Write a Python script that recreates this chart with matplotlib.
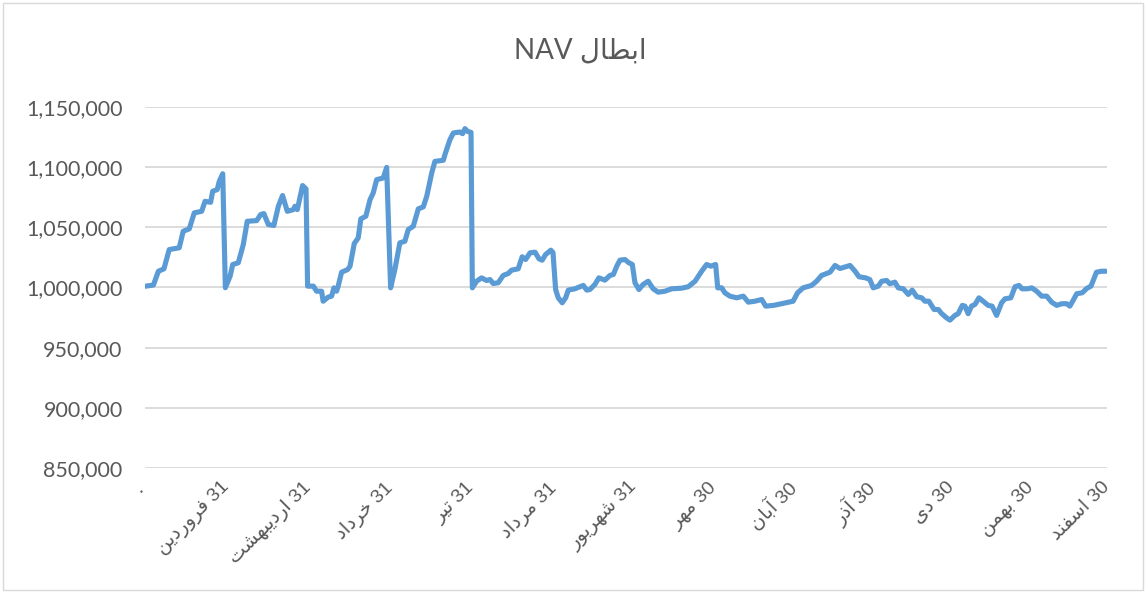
import matplotlib.pyplot as plt
import matplotlib.ticker as mticker
from matplotlib.patches import Rectangle

# --- data (day of the year, NAV for redemption) ---
days = [
    0, 3.2, 5.1, 7.2, 9.2, 13.0, 14.5, 16.8, 18.7, 21.5, 22.8, 24.9, 25.7, 27.4,
    28.2, 29.5, 30.5, 32.3, 33.3, 35.4, 37.3, 38.8, 42.4, 43.9, 45.1, 46.8, 48.9,
    50.6, 52.2, 54.0, 56.3, 56.9, 57.8, 59.8, 61.1, 61.7, 63.9, 65.1, 67.0, 67.6,
    69.5, 70.8, 71.7, 72.7, 73.3, 74.6, 76.9, 77.8, 79.4, 80.9, 81.9, 83.8, 85.4,
    86.6, 87.9, 90.4, 91.7, 93.2, 94.8, 96.7, 98.6, 99.9, 101.8, 103.7, 105.6,
    106.9, 108.8, 110.0, 113.2, 113.8, 115.7, 117.0, 119.5, 120.5, 121.4, 122.4,
    123.7, 124.2, 125.8, 127.7, 129.6, 130.9, 132.1, 134.0, 135.9, 137.8, 139.1,
    141.6, 143.1, 144.4, 146.1, 148.0, 149.5, 150.7, 152.0, 154.0, 154.8, 155.8,
    156.8, 158.3, 159.6, 160.6, 163.1, 165.0, 166.3, 167.6, 168.8, 170.7, 172.2,
    174.5, 176.4, 177.7, 179.0, 180.2, 182.1, 183.6, 184.9, 185.9, 187.4, 189.0,
    190.9, 192.8, 194.7, 197.3, 199.8, 203.6, 206.1, 208.7, 211.2, 213.1, 214.7,
    216.5, 217.3, 218.8, 220.0, 221.9, 224.5, 227.0, 228.9, 231.4, 234.0, 235.5,
    238.4, 241.5, 245.9, 247.6, 249.7, 252.9, 254.8, 256.7, 259.9, 261.8, 263.7,
    267.5, 269.4, 270.9, 273.4, 275.0, 276.3, 278.2, 279.5, 281.4, 282.6, 284.5,
    285.8, 287.7, 289.6, 291.1, 292.8, 294.7, 295.9, 297.4, 299.4, 301.0, 302.2,
    304.1, 305.4, 307.3, 308.5, 310.1, 311.1, 312.3, 313.6, 314.9, 316.4, 318.0,
    319.9, 321.4, 323.1, 325.0, 326.3, 328.5, 330.1, 331.6, 332.8, 334.9, 336.4,
    338.3, 340.2, 342.1, 344.0, 345.9, 347.8, 349.7, 350.9, 352.2, 353.5, 355.6,
    357.3, 358.9, 361.0, 362.9, 364.5,
]

nav = [
    1001000, 1002000, 1013500, 1015500, 1031500, 1033000, 1046700, 1048700,
    1062000, 1063300, 1071600, 1070800, 1080000, 1081300, 1088200, 1094500,
    999800, 1009400, 1019100, 1020500, 1035700, 1055000, 1055600, 1060600,
    1061400, 1052300, 1051500, 1067500, 1076400, 1063300, 1064700, 1067500,
    1064700, 1084700, 1081900, 1001100, 1001100, 996900, 996900, 988600,
    992000, 992800, 999700, 996900, 1001100, 1012700, 1014900, 1017700,
    1036500, 1041200, 1057000, 1059200, 1073000, 1078600, 1089600, 1091000,
    1099800, 999700, 1014900, 1037100, 1038400, 1048100, 1050900, 1065300,
    1067000, 1075800, 1095200, 1104800, 1105700, 1110400, 1122800, 1128400,
    1129200, 1127800, 1132000, 1129700, 1128900, 999700, 1005200, 1008000,
    1005800, 1006600, 1003300, 1003900, 1010000, 1011600, 1014400, 1015500,
    1025500, 1023200, 1028800, 1029300, 1023800, 1022700, 1027400, 1031000,
    1029000, 998300, 991400, 987300, 991400, 997800, 998900, 1000600,
    1001700, 997800, 998300, 1002500, 1008000, 1006100, 1010000, 1010800,
    1017700, 1022700, 1023200, 1020500, 1019100, 1003900, 998300, 1002500,
    1005200, 998900, 996100, 996900, 998900, 999400, 1000600, 1005200,
    1013500, 1019100, 1017700, 1019100, 999700, 999700, 995600, 992800,
    991400, 992800, 987800, 988600, 990000, 984500, 985100, 986500, 988600,
    995600, 999700, 1001700, 1005200, 1010000, 1012700, 1018300, 1015800,
    1018300, 1013500, 1008900, 1008000, 1006600, 999700, 1001100, 1005200,
    1005800, 1003100, 1004400, 999700, 998900, 994200, 997800,
    992300, 991400, 988600, 988600, 981700, 981700, 978400, 974800, 972900,
    976800, 978200, 985100, 984500, 978200, 984500, 985900, 991400, 988600,
    985100, 984500, 976800, 987300, 990600, 991400, 1000600, 1001700,
    998900, 998900, 999700, 996900, 992800, 992800, 987800, 985100, 986500,
    986500, 984500, 989500, 994800, 995600, 999200, 1001100, 1012700,
    1013500, 1013500,
]

tick_days = [0, 31, 62, 93, 124, 155, 186, 216, 246, 276, 306, 336, 365]
tick_labels = [
    "۰", "31 فروردین", "31 اردیبهشت", "31 خرداد", "31 تیر", "31 مرداد",
    "31 شهریور", "30 مهر", "30 آبان", "30 آذر", "30 دی", "30 بهمن", "30 اسفند",
]
title = "ابطال NAV"

# matplotlib has no Arabic shaping, so map letters to presentation forms
# (isolated, final, initial, medial) and lay them out right to left by hand.
FORMS = {
    "ا": ("\uFE8D", "\uFE8E", None, None),
    "آ": ("\uFE81", "\uFE82", None, None),
    "ب": ("\uFE8F", "\uFE90", "\uFE91", "\uFE92"),
    "ت": ("\uFE95", "\uFE96", "\uFE97", "\uFE98"),
    "خ": ("\uFEA5", "\uFEA6", "\uFEA7", "\uFEA8"),
    "د": ("\uFEA9", "\uFEAA", None, None),
    "ذ": ("\uFEAB", "\uFEAC", None, None),
    "ر": ("\uFEAD", "\uFEAE", None, None),
    "س": ("\uFEB1", "\uFEB2", "\uFEB3", "\uFEB4"),
    "ش": ("\uFEB5", "\uFEB6", "\uFEB7", "\uFEB8"),
    "ط": ("\uFEC1", "\uFEC2", "\uFEC3", "\uFEC4"),
    "ف": ("\uFED1", "\uFED2", "\uFED3", "\uFED4"),
    "ل": ("\uFEDD", "\uFEDE", "\uFEDF", "\uFEE0"),
    "م": ("\uFEE1", "\uFEE2", "\uFEE3", "\uFEE4"),
    "ن": ("\uFEE5", "\uFEE6", "\uFEE7", "\uFEE8"),
    "ه": ("\uFEE9", "\uFEEA", "\uFEEB", "\uFEEC"),
    "و": ("\uFEED", "\uFEEE", None, None),
    "ی": ("\uFEEF", "\uFEF0", "\uFEF3", "\uFEF4"),
}


def shape_word(word):
    if not any(c in FORMS for c in word):
        return word
    out = []
    for i, c in enumerate(word):
        if c not in FORMS:
            out.append(c)
            continue
        prev_joins = i > 0 and word[i - 1] in FORMS and FORMS[word[i - 1]][2] is not None
        next_joins = FORMS[c][2] is not None and i + 1 < len(word) and word[i + 1] in FORMS
        if prev_joins and next_joins:
            out.append(FORMS[c][3])
        elif prev_joins:
            out.append(FORMS[c][1])
        elif next_joins:
            out.append(FORMS[c][2])
        else:
            out.append(FORMS[c][0])
    return "".join(reversed(out))


def rtl(text):
    return " ".join(shape_word(tok) for tok in reversed(text.split(" ")))


LINE_COLOR = "#5B9BD5"
TEXT_COLOR = "#595959"
GRID_COLOR = "#D9D9D9"

fig = plt.figure(figsize=(11.46, 5.92), dpi=100)
ax = fig.add_axes([0.1265, 0.2095, 0.8395, 0.6098])

ax.plot(days, nav, color=LINE_COLOR, linewidth=3.7,
        solid_joinstyle="round", solid_capstyle="round")

ax.set_xlim(0, 365)
ax.set_ylim(850000, 1150000)
ax.yaxis.set_major_locator(mticker.MultipleLocator(50000))
ax.yaxis.set_major_formatter(mticker.StrMethodFormatter("{x:,.0f}"))
ax.grid(axis="y", color=GRID_COLOR, linewidth=1.3)
ax.set_axisbelow(True)
for side in ax.spines.values():
    side.set_visible(False)

ax.tick_params(axis="y", length=0, pad=16, labelsize=15.5, labelcolor=TEXT_COLOR)
for lbl in ax.get_yticklabels():
    lbl.set_family(["Lato", "DejaVu Sans"])

ax.set_xticks(tick_days)
ax.set_xticklabels([rtl(t) for t in tick_labels], rotation=45, ha="right",
                   va="center", rotation_mode="anchor",
                   family=["Liberation Sans", "DejaVu Sans"],
                   fontsize=14, color=TEXT_COLOR)
ax.tick_params(axis="x", length=0, pad=12)

fig.text(0.506, 0.915, rtl(title), ha="center", va="center", fontsize=20,
         color=TEXT_COLOR, family=["Lato", "DejaVu Sans"])

fig.patches.append(Rectangle((0.003, 0.003), 0.994, 0.992, transform=fig.transFigure,
                             fill=False, edgecolor=GRID_COLOR, linewidth=1.0))

fig.savefig("out.png", dpi=100)
